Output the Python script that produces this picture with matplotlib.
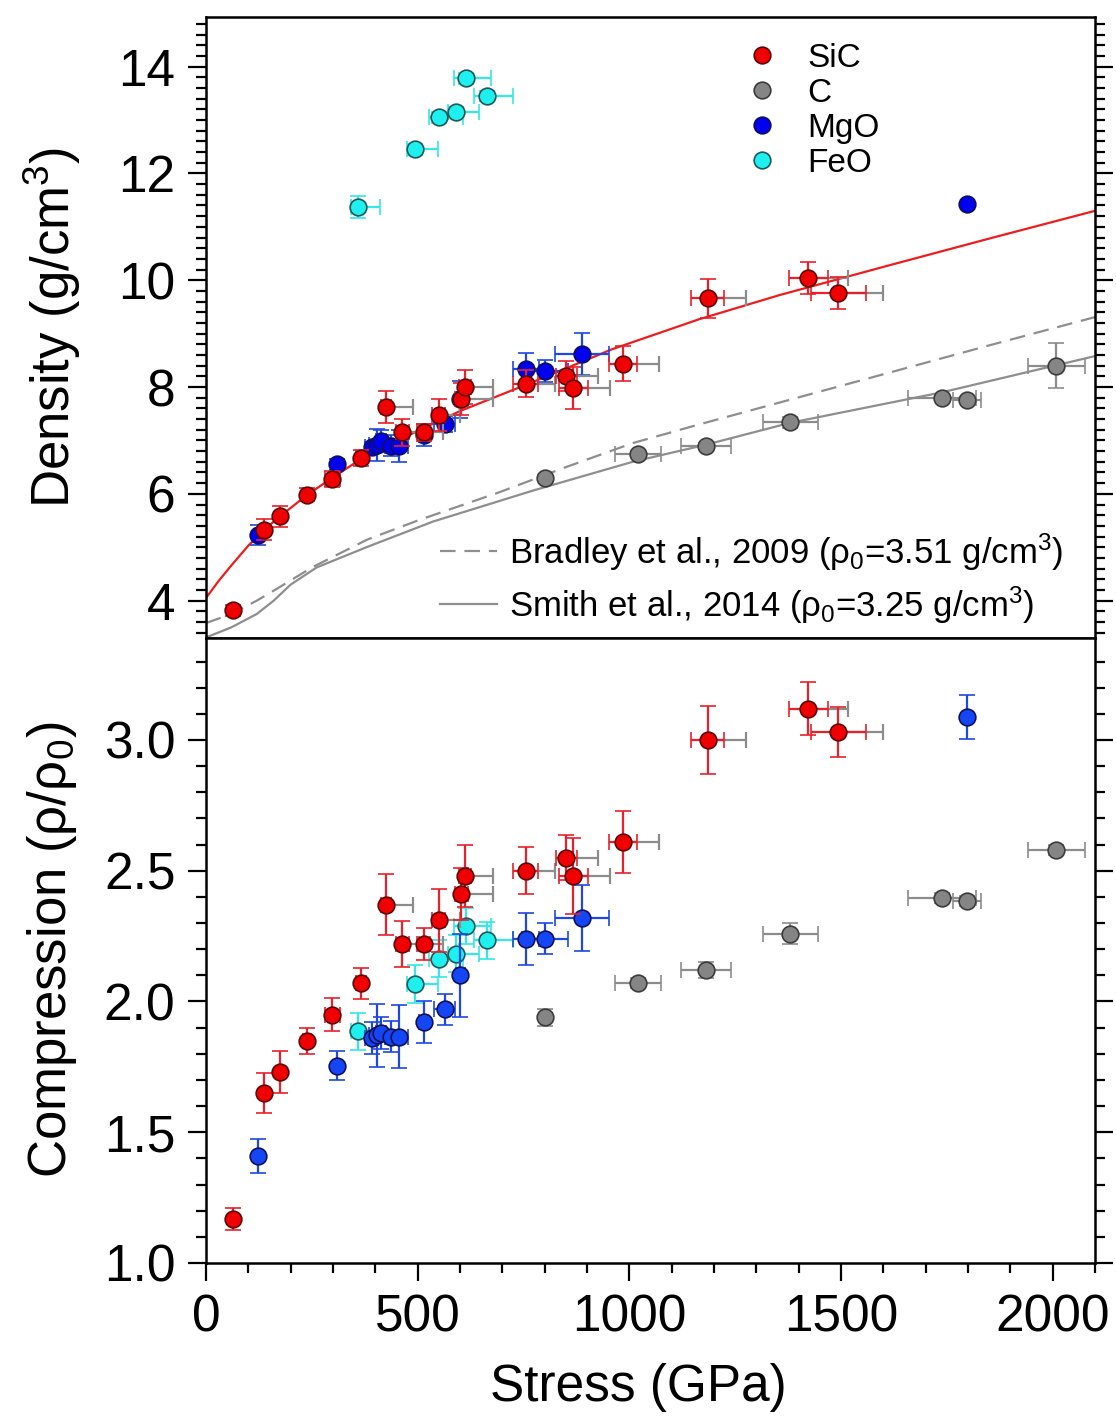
import numpy as np
import matplotlib
matplotlib.use("Agg")
import matplotlib.pyplot as plt
from matplotlib.lines import Line2D
from matplotlib.ticker import MultipleLocator, FormatStrFormatter

plt.rcParams['font.family'] = ['Liberation Sans', 'DejaVu Sans']
plt.rcParams['mathtext.fontset'] = 'custom'
plt.rcParams['mathtext.rm'] = 'Liberation Sans'
plt.rcParams['mathtext.it'] = 'Liberation Sans:italic'

# --- SiC ---
sic_stress = [64, 138, 175, 239, 298, 366, 425, 464, 514, 550, 603, 612, 755, 851, 868, 986, 1185, 1423, 1494]
sic_density = [3.82, 5.33, 5.58, 5.98, 6.28, 6.67, 7.62, 7.15, 7.15, 7.48, 7.78, 8.00, 8.06, 8.21, 7.98, 8.44, 9.66, 10.05, 9.76]
sic_comp = [1.17, 1.65, 1.73, 1.85, 1.95, 2.07, 2.37, 2.22, 2.22, 2.31, 2.41, 2.48, 2.50, 2.55, 2.48, 2.61, 3.00, 3.12, 3.03]
sic_xerr = [0, 0, 0, 10, 18, 12, 12, 15, 15, 15, 15, 15, 30, 25, 35, 33, 39, 47, 64]
sic_xerr_gray = [0, 0, 0, 0, 0, 0, 63, 40, 45, 50, 74, 65, 70, 76, 86, 85, 90, 94, 105]
sic_dens_err = [0.1, 0.2, 0.2, 0.12, 0.15, 0.15, 0.3, 0.25, 0.16, 0.3, 0.3, 0.32, 0.25, 0.28, 0.4, 0.32, 0.36, 0.3, 0.3]
sic_comp_err = [0.042, 0.078, 0.079, 0.05, 0.062, 0.059, 0.117, 0.089, 0.06, 0.12, 0.10, 0.117, 0.09, 0.085, 0.146, 0.118, 0.13, 0.10, 0.096]

# --- C ---
c_stress = [801, 1020, 1181, 1380, 1739, 1798, 2009]
c_density = [6.30, 6.75, 6.90, 7.34, 7.79, 7.76, 8.40]
c_comp = [1.94, 2.07, 2.12, 2.26, 2.395, 2.385, 2.58]
c_xerr = [0, 55, 60, 65, 80, 33, 68]
c_dens_err = [0.05, 0.05, 0.05, 0.1, 0.05, 0.05, 0.42]
c_comp_err = [0.033, 0.02, 0.03, 0.042, 0.02, 0.02, 0.02]

# --- MgO ---
mgo_stress = [123, 310, 391, 405, 414, 438, 456, 514, 564, 601, 756, 801, 888, 1798]
mgo_density = [5.23, 6.55, 6.88, 6.92, 6.99, 6.90, 6.90, 7.10, 7.31, 7.77, 8.34, 8.30, 8.62, 11.42]
mgo_comp = [1.41, 1.755, 1.86, 1.87, 1.88, 1.865, 1.865, 1.92, 1.97, 2.10, 2.24, 2.24, 2.32, 3.087]
mgo_xerr = [0, 0, 15, 20, 12, 15, 20, 10, 25, 10, 30, 55, 63, 0]
mgo_dens_err = [0.19, 0.1, 0.1, 0.3, 0.2, 0.2, 0.3, 0.2, 0.15, 0.35, 0.3, 0.2, 0.39, 0.05]
mgo_comp_err = [0.064, 0.054, 0.06, 0.12, 0.06, 0.06, 0.12, 0.08, 0.06, 0.16, 0.10, 0.06, 0.125, 0.084]

# --- FeO ---
feo_stress = [358, 493, 550, 590, 615, 663]
feo_density = [11.37, 12.45, 13.05, 13.15, 13.78, 13.45]
feo_comp = [1.886, 2.068, 2.164, 2.183, 2.289, 2.234]
feo_xerr_lo = [15, 18, 23, 18, 30, 31]
feo_xerr_hi = [52, 55, 57, 56, 59, 62]
feo_dens_err = [0.2, 0.1, 0.1, 0.1, 0.1, 0.1]
feo_comp_err = [0.07, 0.073, 0.07, 0.07, 0.07, 0.07]

# --- curves ---
fit_stress = [0, 30, 60, 100, 138, 175, 239, 298, 366, 474, 600, 771, 960, 1165, 1354, 1600, 1850, 2100]
fit_density = [4.05, 4.37, 4.66, 5.03, 5.33, 5.58, 5.98, 6.3, 6.65, 7.08, 7.55, 8.09, 8.71, 9.27, 9.72, 10.25, 10.78, 11.3]
bradley_stress = [0, 60, 120, 167, 250, 380, 500, 693, 850, 1008, 1165, 1559, 1850, 2100]
bradley_density = [3.58, 3.75, 4.0, 4.22, 4.62, 5.14, 5.5, 6.03, 6.5, 6.95, 7.3, 8.15, 8.78, 9.31]
smith_stress = [0, 60, 120, 160, 200, 261, 379, 536, 772, 1008, 1181, 1380, 1738, 2100]
smith_density = [3.31, 3.5, 3.75, 4.0, 4.3, 4.62, 5.0, 5.48, 6.06, 6.6, 6.92, 7.33, 7.9, 8.58]

W, H = 1116, 1416
fig = plt.figure(figsize=(W / 100, H / 100), dpi=100)

def px_box(left, top, right, bottom):
    return [left / W, 1 - bottom / H, (right - left) / W, (bottom - top) / H]

ax1 = fig.add_axes(px_box(206, 17, 1095, 638))
ax2 = fig.add_axes(px_box(206, 638, 1095, 1263), sharex=ax1)

red_e = '#e8202a'
gray_e = '#8c8c8c'
blue_e = '#1e48e0'
cyan_e = '#35e8e8'
ms = 12
cap = 5.5
elw = 1.6


def draw(ax, top):
    if top:
        cy, sy, my, fy = c_density, sic_density, mgo_density, feo_density
        cey, sey, mey, fey = c_dens_err, sic_dens_err, mgo_dens_err, feo_dens_err
        mgo_fill = '#0000f0'
    else:
        cy, sy, my, fy = c_comp, sic_comp, mgo_comp, feo_comp
        cey, sey, mey, fey = c_comp_err, sic_comp_err, mgo_comp_err, feo_comp_err
        mgo_fill = '#1446f5'
    ax.errorbar(c_stress, cy, xerr=c_xerr, yerr=cey, fmt='o', ms=ms, mfc='#858585',
                mec='#3c3c3c', mew=1.2, ecolor=gray_e, elinewidth=elw, capsize=cap,
                capthick=elw, zorder=3)
    ax.errorbar(feo_stress, fy, xerr=[feo_xerr_lo, feo_xerr_hi], yerr=fey, fmt='o', ms=ms,
                mfc='#1ef0f0', mec='#205858', mew=1.2, ecolor=cyan_e, elinewidth=elw,
                capsize=cap, capthick=elw, zorder=4)
    ax.errorbar(mgo_stress, my, xerr=mgo_xerr, yerr=mey, fmt='o', ms=ms, mfc=mgo_fill,
                mec='#10105a', mew=1.2, ecolor=blue_e, elinewidth=elw, capsize=cap,
                capthick=elw, zorder=5)
    # gray extension of the SiC stress error
    ax.errorbar(sic_stress, sy, xerr=[np.zeros(len(sic_stress)), sic_xerr_gray], fmt='none',
                ecolor=gray_e, elinewidth=elw, capsize=cap, capthick=elw, zorder=5.5)
    ax.errorbar(sic_stress, sy, xerr=sic_xerr, yerr=sey, fmt='o', ms=ms, mfc='#f00000',
                mec='#5a0a0a', mew=1.2, ecolor=red_e, elinewidth=elw, capsize=cap,
                capthick=elw, zorder=6)


draw(ax1, True)
draw(ax2, False)

ax1.plot(fit_stress, fit_density, color='#ee1c1c', lw=1.6, zorder=2)
l_b, = ax1.plot(bradley_stress, bradley_density, color='#8e8e8e', lw=1.6, dashes=(7, 4), zorder=2)
l_s, = ax1.plot(smith_stress, smith_density, color='#8e8e8e', lw=1.6, zorder=2)

ax1.set_xlim(0, 2100)
ax1.set_ylim(3.3, 14.93)
ax2.set_ylim(1.0, 3.39)

for ax in (ax1, ax2):
    for s in ax.spines.values():
        s.set_linewidth(1.8)
    ax.tick_params(axis='y', which='both', direction='out', left=True, right=True,
                   width=1.6, labelsize=37, pad=9)
    ax.tick_params(axis='y', which='major', length=13)
    ax.tick_params(axis='y', which='minor', length=7)
    ax.xaxis.set_major_locator(MultipleLocator(500))
    ax.xaxis.set_minor_locator(MultipleLocator(100))

ax1.yaxis.set_major_locator(MultipleLocator(2))
ax1.yaxis.set_minor_locator(MultipleLocator(0.2))
ax2.yaxis.set_major_locator(MultipleLocator(0.5))
ax2.yaxis.set_minor_locator(MultipleLocator(0.1))
ax2.yaxis.set_major_formatter(FormatStrFormatter('%.1f'))

ax1.tick_params(axis='x', which='both', bottom=False, top=False, labelbottom=False)
ax2.tick_params(axis='x', which='both', direction='out', bottom=True, top=False,
                width=1.6, labelsize=37, pad=9)
ax2.tick_params(axis='x', which='major', length=13)
ax2.tick_params(axis='x', which='minor', length=7)

# legends
mat_handles = [
    Line2D([], [], ls='none', marker='o', ms=ms, mfc='#f00000', mec='#5a0a0a', mew=1.2),
    Line2D([], [], ls='none', marker='o', ms=ms, mfc='#858585', mec='#3c3c3c', mew=1.2),
    Line2D([], [], ls='none', marker='o', ms=ms, mfc='#0000f0', mec='#10105a', mew=1.2),
    Line2D([], [], ls='none', marker='o', ms=ms, mfc='#1ef0f0', mec='#205858', mew=1.2),
]
leg1 = ax1.legend(mat_handles, ['SiC', 'C', 'MgO', 'FeO'], loc='upper left',
                  bbox_to_anchor=(0.607, 0.958), frameon=False, fontsize=24,
                  handlelength=1.0, handletextpad=0.85, labelspacing=0.12,
                  borderpad=0, borderaxespad=0)
ax1.add_artist(leg1)
ax1.legend([l_b, l_s],
           [r'Bradley et al., 2009 (ρ$_0$=3.51 g/cm$^3$)',
            r'Smith et al., 2014 (ρ$_0$=3.25 g/cm$^3$)'],
           loc='upper left', bbox_to_anchor=(0.263, 0.172), frameon=False, fontsize=25,
           handlelength=1.65, handletextpad=0.35, labelspacing=0.33,
           borderpad=0, borderaxespad=0)

fig.text(52 / W, 1 - 327 / H, r'Density (g/cm$^3$)', rotation=90, ha='center', va='center', fontsize=38)
fig.text(52 / W, 1 - 950 / H, r'Compression (ρ/ρ$_0$)', rotation=90, ha='center', va='center', fontsize=38)
fig.text(638 / W, 1 - 1388 / H, 'Stress (GPa)', ha='center', va='center', fontsize=37)

fig.savefig('out.png', dpi=100)
